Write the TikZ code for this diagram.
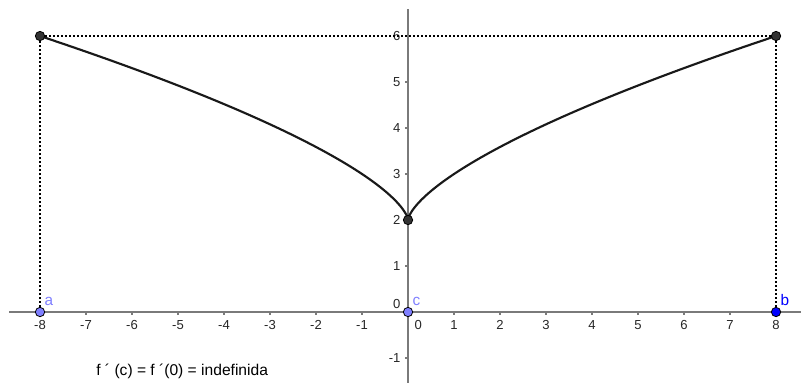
\documentclass[tikz,border=0pt]{standalone}
\usepackage{fontspec}
\setmainfont{Liberation Sans}
\usetikzlibrary{arrows.meta, positioning, calc}
\definecolor{caxis}{HTML}{7A7A7A}
\definecolor{cpoint}{HTML}{333333}
\definecolor{cpale}{HTML}{7F7FFF}
\definecolor{cblue}{HTML}{0000FF}
\tikzset{
  every picture/.style={font=\fontsize{9.8}{11}\selectfont, line width=1pt},
  axis/.style={draw=caxis, line width=1.1pt},
  tick/.style={draw=caxis, line width=0.8pt},
  ticklabel/.style={text=black!85, inner sep=1pt},
  guide/.style={dash pattern=on 1.5pt off 1.5pt, line width=1.5pt},
  dot/.style={circle, draw=black, fill=#1, inner sep=0pt, minimum size=7pt, line width=0.6pt},
  dot/.default=cpoint,
  curve/.style={line width=1.6pt, black!90},
  ptlabel/.style={text=#1, inner sep=1pt, label distance=0pt, font=\fontsize{11.5}{13}\selectfont},
  note/.style={text=black, inner sep=0pt, font=\fontsize{11.7}{13}\selectfont},
}

\begin{document}
\begin{tikzpicture}[x=34.5pt, y=34.5pt]
  \useasboundingbox (-8.870,-1.543) rectangle (8.543,6.783);
  \coordinate (xl) at (-8.674,0);
  \coordinate (xr) at (8.543,0);
  \coordinate (yb) at (0,-1.543);
  \coordinate (yt) at (0,6.587);
  \draw[axis] (xl) -- (xr);
  \draw[axis] (yb) -- (yt);
  \foreach \i in {-8,...,-1,1,2,...,8}{
    \draw[tick] (\i,0) -- ++(0,-0.07);
    \node[ticklabel] (xt\i) at (\i,-0.28) {\i};
  }
  \draw[tick] (0,0) -- ++(0,-0.07);
  \node[ticklabel] (xt0) at (0.22,-0.28) {0};
  \foreach \j in {-1,1,2,...,6}{
    \draw[tick] (0,\j) -- ++(-0.07,0);
    \node[ticklabel, anchor=east] (yt\j) at (-0.12,\j) {\j};
  }
  \node[ticklabel, anchor=east] (yt0) at (-0.12,0.17) {0};
  \draw[curve] plot[domain=-2:2, samples=121, smooth] ({(\x)*(\x)*(\x)}, {2+(\x)*(\x)});
  \node[dot] (P) at (-8,6) {};
  \node[dot] (Q) at (8,6) {};
  \node[dot] (V) at (0,2) {};
  \node[dot=cpale, label={[ptlabel=cpale]60:a}] (a) at (-8,0) {};
  \node[dot=cpale, label={[ptlabel=cpale]60:c}] (c) at (0,0) {};
  \node[dot=cblue, label={[ptlabel=cblue]60:b}] (b) at (8,0) {};
  \draw[guide] (a) -- (P);
  \draw[guide] (P) -- (Q);
  \draw[guide] (Q) -- (b);
  \node[note] (fprime) at (-4.91,-1.283) {f ´ (c) = f ´(0) = indefinida};
\end{tikzpicture}
\end{document}
